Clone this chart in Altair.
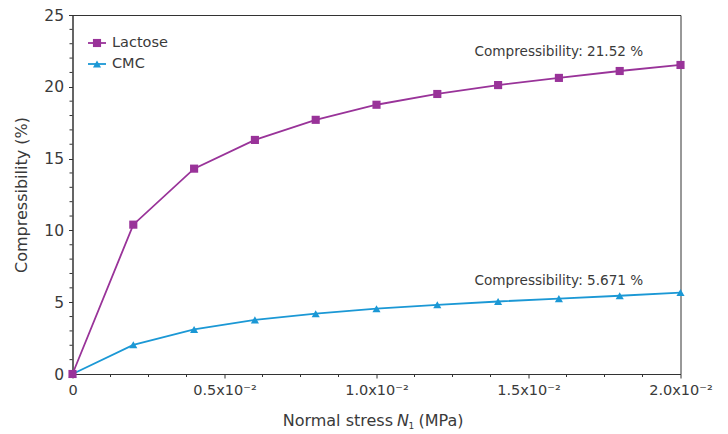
import altair as alt
import pandas as pd

# ---- data ----
stress = [0, 0.002, 0.004, 0.006, 0.008, 0.010, 0.012, 0.014, 0.016, 0.018, 0.020]
lactose = [0, 10.4, 14.3, 16.3, 17.7, 18.75, 19.5, 20.12, 20.62, 21.1, 21.52]
cmc = [0, 2.03, 3.1, 3.77, 4.2, 4.55, 4.82, 5.05, 5.25, 5.45, 5.671]
series = ["Lactose", "CMC"]
colors = ["#993399", "#1b98d5"]
shapes = ["square", "triangle-up"]

ann_x = [0.016, 0.016]
ann_y = [22.42, 6.5]
ann_text = ["Compressibility: 21.52 %", "Compressibility: 5.671 %"]

x_major = [0, 0.005, 0.010, 0.015, 0.020]
x_minor = [0.00125, 0.0025, 0.00375, 0.00625, 0.0075, 0.00875,
           0.01125, 0.0125, 0.01375, 0.01625, 0.0175, 0.01875]
y_major = [0, 5, 10, 15, 20, 25]
y_minor = [1, 2, 3, 4, 6, 7, 8, 9, 11, 12, 13, 14, 16, 17, 18, 19, 21, 22, 23, 24]

FONT = "DejaVu Sans"
TXT = "#3a3a3a"
AX = "#333333"
W, H = 608, 359

rows = []
for name, vals in (("CMC", cmc), ("Lactose", lactose)):
    for s, v in zip(stress, vals):
        rows.append({"series": name, "stress": s, "comp": v})
df = pd.DataFrame(rows)

xscale = alt.Scale(domain=[0, 0.02], nice=False, zero=False)
yscale = alt.Scale(domain=[0, 25], nice=False)
cscale = alt.Scale(domain=series, range=colors)
sscale = alt.Scale(domain=series, range=shapes)

xaxis = alt.Axis(values=x_major, title=None, tickSize=4, labelPadding=5, labelFlush=False,
                 labelFontSize=14.5, labelFont=FONT, labelColor=TXT,
                 domainColor=AX, tickColor=AX, grid=False,
                 labelExpr="datum.value == 0 ? '0' : format(datum.value*100, '.1f') + 'x10⁻²'")
yaxis = alt.Axis(values=y_major, title="Compressibility (%)", tickSize=4, labelPadding=5, labelFlush=False,
                 labelFontSize=15.5, labelFont=FONT, labelColor=TXT,
                 titleFont=FONT, titleFontSize=16, titleFontWeight="normal",
                 titleColor=TXT, titlePadding=14,
                 domainColor=AX, tickColor=AX, grid=False)

base = alt.Chart(df)
lines = base.mark_line(strokeWidth=1.8).encode(
    x=alt.X("stress:Q", scale=xscale, axis=xaxis),
    y=alt.Y("comp:Q", scale=yscale, axis=yaxis),
    color=alt.Color("series:N", scale=cscale, legend=None),
    detail="series:N",
)
points = base.mark_point(filled=True, size=66, opacity=1).encode(
    x=alt.X("stress:Q", scale=xscale),
    y=alt.Y("comp:Q", scale=yscale),
    color=alt.Color("series:N", scale=cscale, legend=None),
    shape=alt.Shape("series:N", scale=sscale, legend=None),
)

ann_df = pd.DataFrame({"x": ann_x, "y": ann_y, "t": ann_text})
ann = alt.Chart(ann_df).mark_text(font=FONT, fontSize=13.6, color=TXT, align="center", baseline="middle").encode(
    x=alt.X("x:Q", scale=xscale), y=alt.Y("y:Q", scale=yscale), text="t:N")

xm = alt.Chart(pd.DataFrame({"v": x_minor})).mark_rule(color=AX, strokeWidth=1).encode(
    x=alt.X("v:Q", scale=xscale), y=alt.value(H), y2=alt.value(H + 3))
ym = alt.Chart(pd.DataFrame({"v": y_minor})).mark_rule(color=AX, strokeWidth=1).encode(
    y=alt.Y("v:Q", scale=yscale), x=alt.value(-3), x2=alt.value(0))

# legend
leg_layers = []
for i, (name, col, shp) in enumerate(zip(series, colors, shapes)):
    ly = 28 + 21 * i
    ldf = pd.DataFrame({"series": [name]})
    leg_layers.append(alt.Chart(ldf).mark_rule(color=col, strokeWidth=1.8).encode(
        x=alt.value(15.5), x2=alt.value(33.5), y=alt.value(ly)))
    leg_layers.append(alt.Chart(ldf).mark_point(filled=True, size=66, opacity=1, color=col, shape=shp).encode(
        x=alt.value(24.5), y=alt.value(ly)))
    leg_layers.append(alt.Chart(ldf).mark_text(font=FONT, fontSize=14.5, color=TXT, align="left", baseline="middle").encode(
        x=alt.value(39.5), y=alt.value(ly), text="series:N"))

# x-axis title with italic N and subscript 1
xt_df = pd.DataFrame({"a": ["Normal stress"], "b": ["N"], "c": ["1"], "d": ["(MPa)"]})
ty = H + 47
xt = [
    alt.Chart(xt_df).mark_text(font=FONT, fontSize=16, color=TXT, align="right", baseline="middle").encode(
        x=alt.value(320.5), y=alt.value(ty), text="a:N"),
    alt.Chart(xt_df).mark_text(font=FONT, fontSize=16, color=TXT, align="left", baseline="middle", fontStyle="italic").encode(
        x=alt.value(324.5), y=alt.value(ty), text="b:N"),
    alt.Chart(xt_df).mark_text(font=FONT, fontSize=9, color=TXT, align="left", baseline="middle").encode(
        x=alt.value(336), y=alt.value(ty + 5), text="c:N"),
    alt.Chart(xt_df).mark_text(font=FONT, fontSize=16, color=TXT, align="left", baseline="middle").encode(
        x=alt.value(346), y=alt.value(ty), text="d:N"),
]

chart = alt.layer(lines, points, ann, xm, ym, *leg_layers, *xt).properties(
    width=W, height=H,
    autosize=alt.AutoSizeParams(type="none"),
    padding={"left": 64.5, "top": 7, "right": 39.5, "bottom": 60},
    background="white",
).configure_view(stroke=AX, strokeWidth=1)

chart.save("out.html", embed_options={"renderer": "svg", "actions": False})
